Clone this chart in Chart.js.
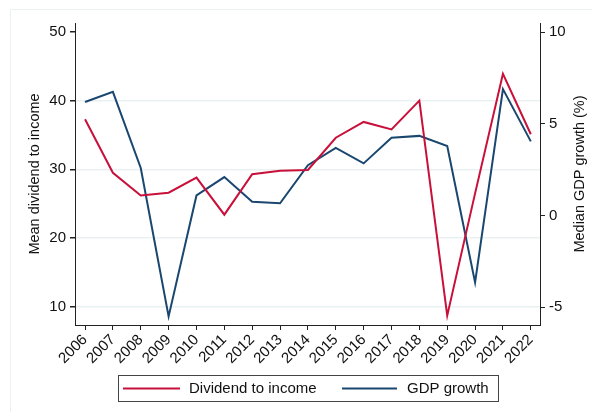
<!DOCTYPE html>
<html>
<head>
<meta charset="utf-8">
<script src="https://cdn.jsdelivr.net/npm/chart.js@4"></script>
<style>
  html, body { margin: 0; padding: 0; background: #fff; }
  #wrap { width: 592px; height: 412px; }
</style>
</head>
<body>
<div id="wrap"><canvas id="lineGraph" width="592" height="412"></canvas></div>
<script>
// data
const years = [2006, 2007, 2008, 2009, 2010, 2011, 2012, 2013, 2014, 2015, 2016, 2017, 2018, 2019, 2020, 2021, 2022];
const dividendToIncome = [37.3, 29.5, 26.2, 26.6, 28.8, 23.4, 29.3, 29.8, 29.9, 34.6, 36.9, 35.8, 40.0, 8.7, 26.5, 43.9, 35.1];
const gdpGrowth = [6.2, 6.75, 2.6, -5.5, 1.1, 2.1, 0.75, 0.67, 2.75, 3.7, 2.85, 4.25, 4.35, 3.8, -3.65, 6.9, 4.05];
const leftTicks = [10, 20, 30, 40, 50];
const rightTicks = [-5, 0, 5, 10];
const rightTitle = 'Median GDP growth (%)';

const RED = '#c8103a';
const BLUE = '#1a476f';
const FONT = "'Liberation Sans', Arial, sans-serif";
const AXIS = '#222';
const GRID = '#e9f1f2';

// outer frame, right-hand title (reads upward) and boxed legend
const stataExtras = {
    id: 'stataExtras',
    beforeDraw(chart) {
        const c = chart.ctx;
        c.save();
        c.strokeStyle = GRID;
        c.lineWidth = 1;
        c.beginPath();
        c.moveTo(10.5, 412);
        c.lineTo(10.5, 9.5);
        c.lineTo(592, 9.5);
        c.stroke();
        c.restore();
    },
    afterDraw(chart) {
        const c = chart.ctx;
        const area = chart.chartArea;
        c.save();
        c.translate(580, (area.top + area.bottom) / 2);
        c.rotate(-Math.PI / 2);
        c.font = '14.5px ' + FONT;
        c.fillStyle = '#111';
        c.textAlign = 'center';
        c.textBaseline = 'middle';
        c.fillText(rightTitle, 0, 0);
        c.restore();

        c.save();
        c.strokeStyle = '#444';
        c.lineWidth = 1;
        c.strokeRect(118.5, 375.5, 380, 26);
        const items = [
            { x1: 123, x2: 180, tx: 189, ds: chart.data.datasets[0] },
            { x1: 342, x2: 397, tx: 407, ds: chart.data.datasets[1] }
        ];
        c.font = '15px ' + FONT;
        c.textBaseline = 'middle';
        c.fillStyle = '#111';
        items.forEach(it => {
            c.strokeStyle = it.ds.borderColor;
            c.lineWidth = 2;
            c.beginPath();
            c.moveTo(it.x1, 388.5);
            c.lineTo(it.x2, 388.5);
            c.stroke();
            c.fillText(it.ds.label, it.tx, 389);
        });
        c.restore();
    }
};

const ctx = document.getElementById('lineGraph').getContext('2d');

new Chart(ctx, {
    type: 'line',
    data: {
        labels: years,
        datasets: [{
            label: 'Dividend to income',
            data: years.map((y, i) => ({ x: y, y: dividendToIncome[i] })),
            borderColor: RED,
            backgroundColor: RED,
            borderWidth: 2,
            pointRadius: 0,
            tension: 0,
            yAxisID: 'y'
        }, {
            label: 'GDP growth',
            data: years.map((y, i) => ({ x: y, y: gdpGrowth[i] })),
            borderColor: BLUE,
            backgroundColor: BLUE,
            borderWidth: 2,
            pointRadius: 0,
            tension: 0,
            yAxisID: 'y2'
        }]
    },
    options: {
        responsive: false,
        animation: false,
        layout: { padding: { top: 23, left: 0, right: 0, bottom: 0 } },
        plugins: {
            legend: { display: false },
            tooltip: { enabled: false }
        },
        scales: {
            x: {
                type: 'linear',
                min: 2005.64,
                max: 2022.33,
                afterBuildTicks: axis => { axis.ticks = years.map(v => ({ value: v })); },
                afterFit: axis => { axis.height = 87; },
                ticks: {
                    autoSkip: false,
                    minRotation: 45,
                    maxRotation: 45,
                    padding: 1,
                    color: '#111',
                    font: { family: FONT, size: 15 },
                    callback: v => String(v)
                },
                grid: { drawOnChartArea: false, tickLength: 5, tickColor: AXIS },
                border: { display: true, color: AXIS, width: 1 }
            },
            y: {
                position: 'left',
                min: 7.34,
                max: 51.3,
                afterBuildTicks: axis => { axis.ticks = leftTicks.map(v => ({ value: v })); },
                afterFit: axis => { axis.width = 75; },
                ticks: {
                    padding: 4,
                    color: '#111',
                    font: { family: FONT, size: 15 }
                },
                grid: {
                    color: c => (c.tick && c.tick.value === 50) ? 'rgba(0,0,0,0)' : GRID,
                    tickColor: AXIS,
                    tickLength: 5,
                    lineWidth: 1.5
                },
                border: { display: true, color: AXIS, width: 1 },
                title: {
                    display: true,
                    text: 'Mean dividend to income',
                    color: '#111',
                    font: { family: FONT, size: 14.5 },
                    padding: { top: 26, bottom: 0 }
                }
            },
            y2: {
                position: 'right',
                min: -5.97,
                max: 10.51,
                afterBuildTicks: axis => { axis.ticks = rightTicks.map(v => ({ value: v })); },
                afterFit: axis => { axis.width = 52; },
                ticks: {
                    padding: 4,
                    color: '#111',
                    font: { family: FONT, size: 15 }
                },
                grid: { drawOnChartArea: false, tickColor: AXIS, tickLength: 5 },
                border: { display: true, color: AXIS, width: 1 }
            }
        }
    },
    plugins: [stataExtras]
});
</script>
</body>
</html>
